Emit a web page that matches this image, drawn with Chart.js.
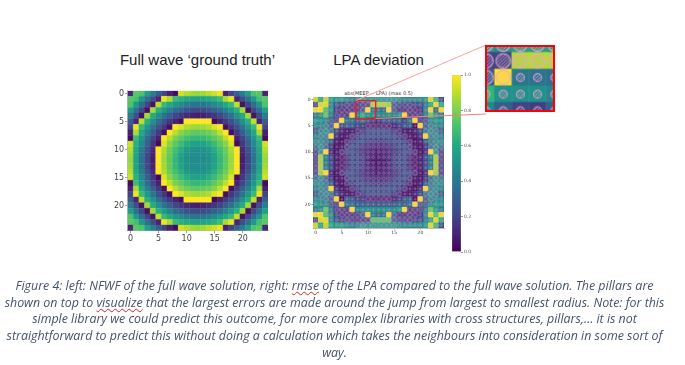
<!DOCTYPE html>
<html>
<head>
<meta charset="utf-8">
<script src="https://cdn.jsdelivr.net/npm/chart.js@4"></script>
<style>
  body { margin: 0; width: 685px; height: 365px; background: #fff; overflow: hidden; position: relative; }
  canvas { position: absolute; filter: blur(0.4px); }
  .heading { position: absolute; top: 51px; font: 15px "Liberation Sans", sans-serif; color: #222; white-space: nowrap; transform: translateX(-50%); }
  .maptitle { position: absolute; left: 378.5px; top: 90px; font: 5px "DejaVu Sans", sans-serif; color: #333; white-space: nowrap; transform: translateX(-50%); }
  .caption { position: absolute; left: 334.5px; font: italic 12.4px "Open Sans", sans-serif; color: #44546a; white-space: nowrap; transform: translateX(-50%); }
  .typo { text-decoration: underline wavy #e02020 1px; text-underline-offset: 1px; }
  svg { position: absolute; left: 0; top: 0; }
</style>
</head>
<body>
<div class="heading" style="left:197.5px">Full wave ‘ground truth’</div>
<div class="heading" style="left:378.5px">LPA deviation</div>
<div class="maptitle">abs(MEEP − LPA) (max 0.5)</div>

<canvas id="fullWave" width="175" height="165" style="left:105px;top:80px"></canvas>
<canvas id="deviation" width="160" height="160" style="left:295px;top:85px"></canvas>
<canvas id="colorbar" width="32" height="190" style="left:452px;top:70px"></canvas>
<svg width="685" height="365">
  <line x1="356" y1="100.5" x2="486" y2="45" stroke="#ffa0a0" stroke-width="1"/>
  <line x1="375.7" y1="118.5" x2="486" y2="114" stroke="#f08080" stroke-width="1"/>
</svg>
<canvas id="inset" width="70" height="67" style="left:485px;top:45px;border:2.4px solid #f00"></canvas>

<div class="caption" style="top:277px">Figure 4: left: NFWF of the full wave solution, right: <span class="typo">rmse</span> of the LPA compared to the full wave solution. The pillars are</div>
<div class="caption" style="top:294px">shown on top to <span class="typo">visualize</span> that the largest errors are made around the jump from largest to smallest radius. Note: for this</div>
<div class="caption" style="top:310px">simple library we could predict this outcome, for more complex libraries with cross structures, pillars,… it is not</div>
<div class="caption" style="top:327px">straightforward to predict this without doing a calculation which takes the neighbours into consideration in some sort of</div>
<div class="caption" style="top:344px">way.</div>

<script>
// tick labels
const mapTicks = [0, 5, 10, 15, 20];
const barTicks = [0, 0.2, 0.4, 0.6, 0.8, 1];

// NFWF of the full wave solution, in percent
const fullWave = [
  [10,74,72,55,42,30,20,9,3,93,89,86,84,86,89,93,97,9,20,30,42,55,72,74,10],
  [74,70,52,37,24,10,97,87,68,63,60,58,57,58,60,63,68,87,97,10,24,37,52,70,74],
  [72,52,36,21,5,90,67,60,52,47,42,39,38,39,42,47,52,60,67,90,5,21,36,52,72],
  [55,37,21,4,86,63,53,44,35,31,26,23,22,23,26,31,35,44,53,63,86,4,21,37,55],
  [42,24,5,86,61,50,38,30,21,16,12,9,8,9,12,16,21,30,38,50,61,86,5,24,42],
  [30,10,90,63,50,36,26,17,9,3,100,100,100,100,100,3,9,17,26,36,50,63,90,10,30],
  [20,97,67,53,38,26,16,4,100,95,88,86,85,86,88,95,100,4,16,26,38,53,67,97,20],
  [9,87,60,44,30,17,4,100,90,82,78,76,75,76,78,82,90,100,4,17,30,44,60,87,9],
  [3,68,52,35,21,9,100,90,80,75,70,67,66,67,70,75,80,90,100,9,21,35,52,68,3],
  [93,63,47,31,16,3,95,82,75,68,62,58,56,58,62,68,75,82,95,3,16,31,47,63,93],
  [89,60,42,26,12,100,88,78,70,62,54,51,50,51,54,62,70,78,88,100,12,26,42,60,89],
  [86,58,39,23,9,100,86,76,67,58,51,49,48,49,51,58,67,76,86,100,9,23,39,58,86],
  [84,57,38,22,8,100,85,75,66,56,50,48,47,48,50,56,66,75,85,100,8,22,38,57,84],
  [86,58,39,23,9,100,86,76,67,58,51,49,48,49,51,58,67,76,86,100,9,23,39,58,86],
  [89,60,42,26,12,100,88,78,70,62,54,51,50,51,54,62,70,78,88,100,12,26,42,60,89],
  [93,63,47,31,16,3,95,82,75,68,62,58,56,58,62,68,75,82,95,3,16,31,47,63,93],
  [3,68,52,35,21,9,100,90,80,75,70,67,66,67,70,75,80,90,100,9,21,35,52,68,3],
  [9,87,60,44,30,17,4,100,90,82,78,76,75,76,78,82,90,100,4,17,30,44,60,87,9],
  [20,97,67,53,38,26,16,4,100,95,88,86,85,86,88,95,100,4,16,26,38,53,67,97,20],
  [30,10,90,63,50,36,26,17,9,3,100,100,100,100,100,3,9,17,26,36,50,63,90,10,30],
  [42,24,5,86,61,50,38,30,21,16,12,9,8,9,12,16,21,30,38,50,61,86,5,24,42],
  [55,37,21,4,86,63,53,44,35,31,26,23,22,23,26,31,35,44,53,63,86,4,21,37,55],
  [72,52,36,21,5,90,67,60,52,47,42,39,38,39,42,47,52,60,67,90,5,21,36,52,72],
  [74,70,52,37,24,10,97,87,68,63,60,58,57,58,60,63,68,87,97,10,24,37,52,70,74],
  [10,74,72,55,42,30,20,9,3,93,89,86,84,86,89,93,97,9,20,30,42,55,72,74,10]
];

// rmse of the LPA, in percent
const lpaDeviation = [
  [92,60,92,60,55,58,50,45,45,55,50,55,55,55,55,55,50,50,48,48,50,55,95,68,25],
  [25,95,95,45,30,22,22,18,18,20,22,88,88,88,85,30,25,22,20,22,25,40,60,98,60],
  [98,98,70,50,20,15,15,15,18,28,100,40,38,36,100,30,15,15,18,15,15,45,98,30,98],
  [40,50,75,40,20,18,15,100,45,65,50,50,50,45,50,48,55,100,15,18,20,40,75,55,40],
  [55,50,48,30,22,100,40,38,32,45,30,20,18,30,30,30,35,20,40,100,20,30,48,55,50],
  [45,48,45,28,100,25,30,28,22,18,12,10,10,10,10,12,20,28,30,4,100,30,45,48,45],
  [30,45,50,40,24,12,6,8,14,18,24,26,26,26,24,18,14,8,6,10,24,40,50,45,30],
  [45,50,45,100,16,6,8,16,22,27,27,26,26,26,27,27,22,16,8,6,16,100,45,50,45],
  [50,50,42,32,10,6,14,22,27,26,22,20,20,20,22,26,27,22,14,6,10,32,42,50,50],
  [38,52,36,18,6,8,18,27,26,20,16,14,14,14,16,20,26,27,18,8,6,18,36,52,38],
  [22,52,100,14,6,14,24,27,22,16,12,10,10,10,12,16,22,27,24,14,6,14,100,52,22],
  [22,85,44,24,10,6,16,26,26,20,14,10,8,10,14,20,26,26,16,6,10,24,44,85,22],
  [22,86,44,24,10,6,16,26,26,20,14,8,8,8,14,20,26,26,16,6,10,24,44,86,22],
  [22,86,44,24,10,6,16,26,26,20,14,10,8,10,14,20,26,26,16,6,10,24,44,86,22],
  [22,85,100,14,6,14,24,27,22,16,12,10,10,10,12,16,22,27,24,14,6,14,100,85,22],
  [38,52,36,18,6,8,18,27,26,20,16,14,14,14,16,20,26,27,18,8,6,18,36,52,38],
  [50,50,42,32,10,6,14,22,27,26,22,20,20,20,22,26,27,22,14,6,10,32,42,50,50],
  [45,50,45,100,16,6,8,16,22,27,27,26,26,26,27,27,22,16,8,6,16,100,45,50,45],
  [30,45,50,40,24,12,6,8,14,18,24,26,26,26,24,18,14,8,6,10,24,40,50,45,30],
  [45,48,45,28,100,3,30,28,22,18,12,10,10,10,10,12,20,28,30,4,100,30,45,48,45],
  [55,50,48,30,22,100,40,38,32,30,30,30,30,30,30,30,35,30,40,100,30,30,48,55,50],
  [40,50,75,40,20,18,15,100,45,50,50,50,50,50,50,48,55,100,15,18,20,40,75,55,40],
  [98,98,70,50,20,15,15,15,18,28,100,40,38,36,100,30,15,15,18,15,15,45,98,70,98],
  [25,95,95,45,30,22,22,18,18,20,22,72,72,72,72,30,25,22,20,22,25,40,60,95,60],
  [92,60,90,60,55,58,50,45,45,55,50,55,55,55,55,55,50,50,48,48,50,55,95,68,25]
];

// pillar radius class per cell, 1 smallest, 4 largest
const pillarClass = [
  '2332222244444444422222332',
  '3322224444444444444222233',
  '3222244444411144444422223',
  '2222444411111111144442222',
  '2224441111111111111444222',
  '2244411111444441111144422',
  '2444111143333333411114442',
  '2444111433333333341114442',
  '4441114333333333334111444',
  '4441114333333333334111444',
  '4441143333222223333411444',
  '4411143333222223333411144',
  '4411143333222223333411144',
  '4411143333222223333411144',
  '4441143333222223333411444',
  '4441114333333333334111444',
  '4441114333333333334111444',
  '2444111433333333341114442',
  '2444111143333333411114442',
  '2244411111444441111144422',
  '2224441111111111111444222',
  '2222444411111111144442222',
  '3222244444411144444422223',
  '3322224444444444444222233',
  '2332222244444444422222332'
];

// area of the right map that the inset blows up, in cell coordinates
const zoomBoxX = [7.7, 11.46, 11.46, 7.7, 7.7];
const zoomBoxY = [0.2, 0.2, 3.7, 3.7, 0.2];
const insetX = [9.06, 12.9];
const insetY = [0.17, 3.95];

const viridis = ['#440154', '#482475', '#414487', '#355f8d', '#2a788e', '#21918c', '#22a884', '#44bf70', '#7ad151', '#bddf26', '#fde725'];

function hexToRgb(h) {
  return [1, 3, 5].map(i => parseInt(h.substr(i, 2), 16));
}

function colour(percent) {
  const t = Math.min(percent, 100) / 10;
  const i = Math.min(Math.floor(t), 9);
  const a = hexToRgb(viridis[i]);
  const b = hexToRgb(viridis[i + 1]);
  const c = a.map((v, k) => Math.round(v + (b[k] - v) * (t - i)));
  return `rgb(${c[0]},${c[1]},${c[2]})`;
}

function cells(table) {
  const out = [];
  table.forEach((row, y) => row.forEach((v, x) => out.push({ x, y })));
  return out;
}

function cellColours(table) {
  return table.flat().map(colour);
}

// a pillar: pink ring with diagonal hatching, drawn once per radius class
function pillarSprite(radius, lineWidth, spacing, alpha) {
  const size = Math.ceil(radius * 2 + lineWidth * 2);
  const c = document.createElement('canvas');
  c.width = c.height = size;
  const g = c.getContext('2d');
  const m = size / 2;
  g.strokeStyle = `rgba(240,165,205,${alpha})`;
  g.lineWidth = lineWidth;
  g.beginPath();
  g.arc(m, m, radius, 0, Math.PI * 2);
  g.stroke();
  g.save();
  g.clip();
  g.lineWidth = lineWidth * 0.8;
  for (let d = -size; d < size; d += spacing) {
    g.beginPath();
    g.moveTo(m + d - size, m + size);
    g.lineTo(m + d + size, m - size);
    g.stroke();
  }
  g.restore();
  return c;
}

function mapScale(tickSize, fitSize, fontSize, reverse) {
  return {
    type: 'linear',
    min: -0.5,
    max: 24.5,
    reverse,
    afterBuildTicks: s => { s.ticks = mapTicks.map(value => ({ value })); },
    afterFit: s => {
      if (s.isHorizontal()) s.height = fitSize; else s.width = fitSize;
    },
    grid: { drawOnChartArea: false, tickLength: tickSize, tickColor: '#555', tickWidth: 0.6 },
    border: { color: '#777', width: 0.5 },
    ticks: { color: '#444', font: { family: 'DejaVu Sans', size: fontSize }, padding: 1, maxRotation: 0, autoSkip: false }
  };
}

function baseOptions(padding) {
  return {
    responsive: false,
    animation: false,
    events: [],
    layout: { padding, autoPadding: false },
    plugins: { legend: { display: false }, tooltip: { enabled: false } }
  };
}

function cellDataset(table, side) {
  return {
    data: cells(table),
    order: 3,
    pointStyle: 'rect',
    pointRadius: side * Math.SQRT1_2,
    pointBackgroundColor: cellColours(table),
    pointBorderColor: cellColours(table),
    pointBorderWidth: 0.4
  };
}

function pillarDataset(table, radii, lineWidth, spacing, alpha) {
  const sprites = radii.map(r => pillarSprite(r, lineWidth, spacing, alpha));
  const style = pillarClass.join('').split('').map(k => sprites[k - 1]);
  return {
    data: cells(table),
    order: 2,
    pointStyle: c => style[c.dataIndex],
    pointRadius: 4,
    pointBackgroundColor: 'transparent',
    pointBorderColor: 'transparent',
    pointBorderWidth: 0
  };
}

new Chart(document.getElementById('fullWave'), {
  type: 'scatter',
  data: { datasets: [cellDataset(fullWave, 5.6)] },
  options: {
    ...baseOptions({ left: 0, top: 10.7, right: 12, bottom: 0 }),
    scales: { x: mapScale(2.5, 14.3, 8, false), y: mapScale(2.5, 22.7, 8, true) }
  }
});

new Chart(document.getElementById('deviation'), {
  type: 'scatter',
  data: {
    datasets: [
      {
        data: zoomBoxX.map((x, i) => ({ x, y: zoomBoxY[i] })),
        order: 1,
        showLine: true,
        pointRadius: 0,
        borderColor: '#e8202a',
        borderWidth: 1.4
      },
      pillarDataset(lpaDeviation, [1.1, 1.4, 1.7, 2.2], 0.55, 2.2, 0.7),
      cellDataset(lpaDeviation, 5.24)
    ]
  },
  options: {
    ...baseOptions({ left: 0, top: 12, right: 11, bottom: 0 }),
    scales: { x: mapScale(1.5, 17, 4.5, false), y: mapScale(1.5, 18, 4.5, true) }
  }
});

new Chart(document.getElementById('inset'), {
  type: 'scatter',
  data: {
    datasets: [
      pillarDataset(lpaDeviation, [4.2, 5, 6, 7.6], 1.1, 3.4, 0.95),
      cellDataset(lpaDeviation, 18.3)
    ]
  },
  options: {
    ...baseOptions(0),
    scales: {
      x: { type: 'linear', display: false, min: insetX[0], max: insetX[1] },
      y: { type: 'linear', display: false, min: insetY[0], max: insetY[1], reverse: true }
    }
  }
});

new Chart(document.getElementById('colorbar'), {
  type: 'bar',
  data: {
    labels: ['NFWF'],
    datasets: [{
      data: [[0, 1]],
      barPercentage: 1,
      categoryPercentage: 1,
      borderColor: '#bbb',
      borderWidth: 0.5,
      backgroundColor: c => {
        const { ctx, chartArea } = c.chart;
        if (!chartArea) return viridis[0];
        const grad = ctx.createLinearGradient(0, chartArea.bottom, 0, chartArea.top);
        viridis.forEach((col, i) => grad.addColorStop(i / 10, col));
        return grad;
      }
    }]
  },
  options: {
    ...baseOptions({ left: 0, top: 5, right: 0, bottom: 8 }),
    scales: {
      x: { display: false },
      y: {
        position: 'right',
        min: 0,
        max: 1,
        afterBuildTicks: s => { s.ticks = barTicks.map(value => ({ value })); },
        afterFit: s => { s.width = 23; },
        grid: { drawOnChartArea: false, tickLength: 2, tickColor: '#555', tickWidth: 0.6 },
        border: { display: false },
        ticks: { color: '#555', font: { family: 'DejaVu Sans', size: 4.5 }, padding: 1, callback: v => v.toFixed(1) }
      }
    }
  }
});
</script>
</body>
</html>
